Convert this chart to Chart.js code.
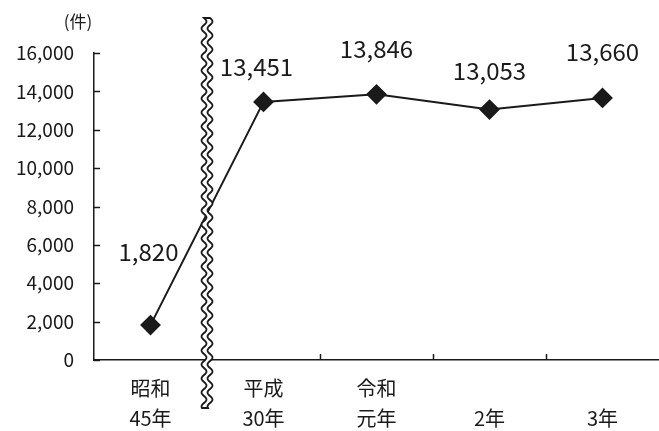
<!DOCTYPE html>
<html>
<head>
<meta charset="utf-8">
<script src="https://cdn.jsdelivr.net/npm/chart.js@4.4.1/dist/chart.umd.min.js"></script>
<style>
  html, body { margin: 0; padding: 0; background: #fff; }
  #wrap { width: 659px; height: 431px; }
</style>
</head>
<body>
<div id="wrap"><canvas id="c" width="659" height="431"></canvas></div>
<script>
// data
const categories = [["昭和", "45年"], ["平成", "30年"], ["令和", "元年"], ["", "2年"], ["", "3年"]];
const counts = [1820, 13451, 13846, 13053, 13660];
const yTicks = [0, 2000, 4000, 6000, 8000, 10000, 12000, 14000, 16000];

// label placement (styling only)
const labelDx = [-2, -7, 0, 0, 0];
const labelDy = [-73, -35, -45, -39, -46];

const FONT = "'Noto Sans CJK JP', 'Noto Sans', sans-serif";
const INK = "#1a1a1a";

const fmt = (v) => v.toLocaleString("en-US");

const decorPlugin = {
  id: "decor",
  afterDatasetsDraw: (chart) => {
    const ctx = chart.ctx;
    const x = chart.scales.x;
    const y = chart.scales.y;
    const area = chart.chartArea;

    ctx.save();
    ctx.strokeStyle = INK;
    ctx.lineWidth = 1.5;

    // y ticks, pointing inward
    yTicks.forEach((v) => {
      const py = Math.round(y.getPixelForValue(v)) + 0.5;
      ctx.beginPath();
      ctx.moveTo(area.left, py);
      ctx.lineTo(area.left + 6, py);
      ctx.stroke();
    });

    // x ticks between categories
    for (let i = 1; i < categories.length; i++) {
      const px = (x.getPixelForValue(i - 1) + x.getPixelForValue(i)) / 2;
      ctx.beginPath();
      ctx.moveTo(Math.round(px) + 0.5, area.bottom);
      ctx.lineTo(Math.round(px) + 0.5, area.bottom - 6);
      ctx.stroke();
    }

    // data labels
    ctx.fillStyle = INK;
    ctx.font = "24px " + FONT;
    ctx.textAlign = "center";
    ctx.textBaseline = "middle";
    counts.forEach((v, i) => {
      const px = x.getPixelForValue(i);
      const py = y.getPixelForValue(v);
      ctx.fillText(fmt(v), px + labelDx[i], py + labelDy[i]);
    });

    // unit
    ctx.font = "17px " + FONT;
    ctx.textAlign = "center";
    ctx.fillText("(件)", area.left - 16, 22);

    // wavy break between first and second category
    const bx = (x.getPixelForValue(0) + x.getPixelForValue(1)) / 2;
    const top = 18;
    const bottom = 408;
    const amp = 2.5;
    const period = 14;
    const gap = 3;
    const wave = (yy, off) => bx + off + amp * Math.sin(((yy - top) / period) * Math.PI * 2);

    ctx.beginPath();
    for (let yy = top; yy <= bottom; yy += 1) {
      const xx = wave(yy, -gap);
      if (yy === top) ctx.moveTo(xx, yy);
      else ctx.lineTo(xx, yy);
    }
    for (let yy = bottom; yy >= top; yy -= 1) {
      ctx.lineTo(wave(yy, gap), yy);
    }
    ctx.closePath();
    ctx.fillStyle = "#fff";
    ctx.fill();
    ctx.lineWidth = 1.8;
    ctx.stroke();

    ctx.restore();
  },
};

new Chart(document.getElementById("c"), {
  type: "line",
  data: {
    labels: categories,
    datasets: [
      {
        data: counts,
        borderColor: INK,
        borderWidth: 2,
        backgroundColor: INK,
        pointStyle: "rectRot",
        pointRadius: 9,
        pointHoverRadius: 9,
        tension: 0,
      },
    ],
  },
  plugins: [decorPlugin],
  options: {
    responsive: false,
    animation: false,
    layout: {
      autoPadding: false,
      padding: { top: 53, right: 0, bottom: 0, left: 0 },
    },
    plugins: {
      legend: { display: false },
      tooltip: { enabled: false },
    },
    scales: {
      x: {
        offset: true,
        grid: { display: false, drawTicks: false },
        border: { display: true, color: INK, width: 1.5 },
        ticks: {
          color: INK,
          font: { family: FONT, size: 20, lineHeight: 1.5 },
          padding: 13,
          maxRotation: 0,
          autoSkip: false,
        },
        afterFit: (scale) => {
          scale.height = 71;
          scale.paddingLeft = 0;
          scale.paddingRight = 0;
        },
      },
      y: {
        min: 0,
        max: 16000,
        afterBuildTicks: (scale) => {
          scale.ticks = yTicks.map((v) => ({ value: v }));
        },
        grid: { display: false, drawTicks: false },
        border: { display: true, color: INK, width: 1.5 },
        ticks: {
          color: INK,
          font: { family: FONT, size: 19 },
          padding: 20,
          callback: (v) => fmt(v),
        },
        afterFit: (scale) => {
          scale.width = 94;
          scale.paddingTop = 0;
          scale.paddingBottom = 0;
        },
      },
    },
  },
});
</script>
</body>
</html>
